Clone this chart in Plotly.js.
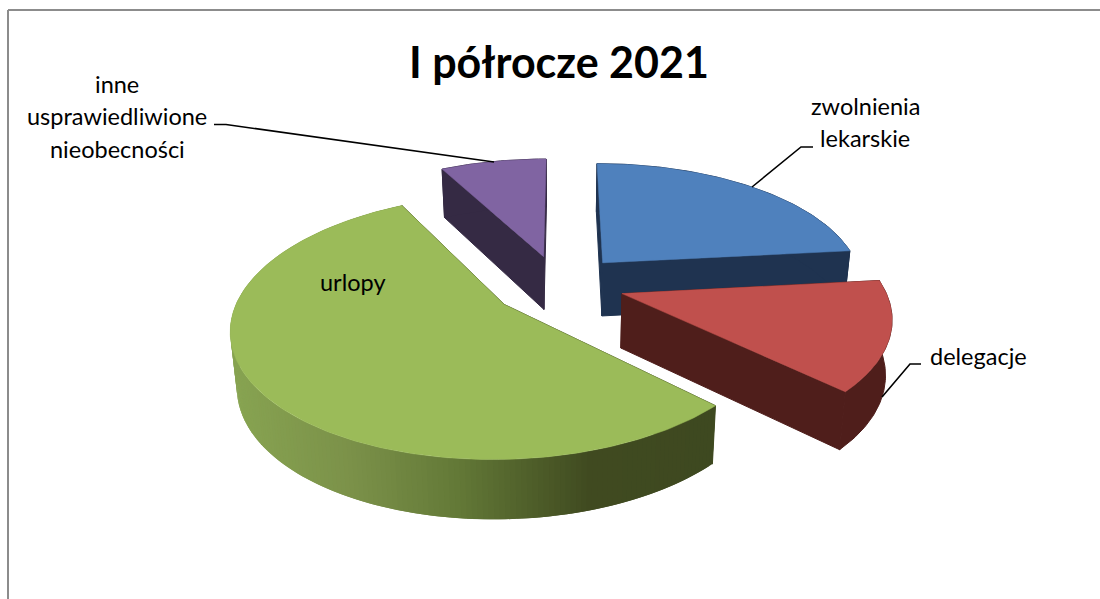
<!DOCTYPE html>
<html>
<head>
<meta charset="utf-8">
<script src="https://cdn.plot.ly/plotly-3.0.1.min.js"></script>
<style>html,body{margin:0;padding:0;background:#fff}#c{width:1100px;height:599px}</style>
</head>
<body>
<div id="c"></div>
<script>
// chart data
const chartTitle = 'I półrocze 2021';
const categories = ['zwolnienia lekarskie', 'delegacje', 'urlopy', 'inne usprawiedliwione nieobecności'];
const shares = [23.3, 13.9, 55.0, 7.8];
const topColors = ['#4f81bd', '#c0504d', '#9bbb59', '#8064a2'];
const wallColors = ['#1f3350', '#4f1e1b', '#3f4a20', '#352a44'];

// view of the 3D pie
const view = {cx: 562, cy: 284, R: 261, Ry: 122, k: 0.165, h0: 54, h1: 5, zs: 0.98};
const explode = [0.24, 0.24, 0.27, 0.24];
const skewX = [0, 0, 0, -0.015];

function project(X, Y, z) {
  const w = 1 - view.k * Y, s = z ? view.zs : 1;
  return [view.cx + view.R * X / w * s, view.cy + view.Ry * Y / w + z * (view.h0 + view.h1 * Y)];
}
const traces = [];
function poly(pts, color, lw) {
  traces.push({type: 'scatter', mode: 'lines', x: pts.map(p => p[0]), y: pts.map(p => p[1]),
    fill: 'toself', fillcolor: color, line: {color: color, width: lw === undefined ? 1 : lw}, hoverinfo: 'skip', showlegend: false});
}
function mix(a, b, t) {
  const pa = [1,3,5].map(i => parseInt(a.substr(i,2),16)), pb = [1,3,5].map(i => parseInt(b.substr(i,2),16));
  return 'rgb(' + pa.map((v,i) => Math.round(v + (pb[i]-v)*t)).join(',') + ')';
}
const greenStops = [[235,'#87a351'],[350,'#7b9149'],[453,'#647a38'],[530,'#4f5f2a'],[590,'#404a20'],[720,'#3e4920']];
function greenAt(x) {
  for (let i = 1; i < greenStops.length; i++) {
    if (x <= greenStops[i][0]) {
      const a = greenStops[i-1], b = greenStops[i];
      return mix(a[1], b[1], Math.max(0, (x-a[0])/(b[0]-a[0])));
    }
  }
  return greenStops[greenStops.length-1][1];
}
const total = shares.reduce((a,b) => a+b, 0);
const slices = [];
let acc = 0;
shares.forEach((v, i) => {
  const a0 = acc / total * 2 * Math.PI; acc += v;
  slices.push({i, a0, a1: acc / total * 2 * Math.PI});
});
// painter's order: back to front
[3, 0, 2, 1].forEach(i => {
  const {a0, a1} = slices[i], mid = (a0 + a1) / 2, e = explode[i];
  const ax = e * Math.sin(mid) + skewX[i], ay = -e * Math.cos(mid);
  const pt = (a, z) => project(ax + Math.sin(a), ay - Math.cos(a), z);
  const apex = z => project(ax, ay, z);
  poly([apex(0), pt(a0,0), pt(a0,1), apex(1), apex(0)], wallColors[i]);
  poly([apex(0), pt(a1,0), pt(a1,1), apex(1), apex(0)], wallColors[i]);
  const steps = Math.round((a1 - a0) / (2 * Math.PI) * 360);
  const ang = n => a0 + (a1 - a0) * Math.min(n, steps) / steps;
  if (i === 2) {
    for (let n = 0; n < steps; n++) {
      const p = pt(ang(n), 0), q = pt(ang(n+2), 0);
      poly([p, q, pt(ang(n+2),1), pt(ang(n),1), p], greenAt((p[0]+pt(ang(n+1),0)[0])/2), 0);
    }
  } else {
    const up = [], dn = [];
    for (let n = 0; n <= steps; n++) { up.push(pt(ang(n),0)); dn.unshift(pt(ang(n),1)); }
    poly(up.concat(dn, [up[0]]), wallColors[i]);
  }
  const top = [apex(0)];
  for (let n = 0; n <= steps; n++) top.push(pt(ang(n),0));
  top.push(apex(0));
  poly(top, topColors[i], 0.5);
});
// leader lines
const leaders = [
  {x:[214,226,494], y:[124.5,124.5,162]},
  {x:[752,801,813], y:[187,147,147]},
  {x:[882,910,921], y:[397,364,364]}
];
leaders.forEach(l => traces.push({type:'scatter', mode:'lines', x:l.x, y:l.y, line:{color:'#000',width:1.6}, hoverinfo:'skip', showlegend:false}));

const labelFont = {family:'Lato, sans-serif', size:23.5, color:'#000'};
const note = (x, y, text, font) => ({xref:'x', yref:'y', x, y, text, showarrow:false, xanchor:'center', yanchor:'middle', font: font || labelFont});
const layout = {
  width:1100, height:599, margin:{l:0,r:0,t:0,b:0}, paper_bgcolor:'#fff', plot_bgcolor:'#fff', showlegend:false,
  xaxis:{range:[0,1100], visible:false, fixedrange:true},
  yaxis:{range:[599,0], visible:false, fixedrange:true},
  shapes:[{type:'line', xref:'x', yref:'y', x0:8, y0:10, x1:1100, y1:10, line:{color:'#8c8c8c',width:2}},
          {type:'line', xref:'x', yref:'y', x0:8, y0:10, x1:8, y1:599, line:{color:'#8c8c8c',width:2}}],
  annotations:[
    note(559, 61, chartTitle, {family:'Lato, sans-serif', size:43, color:'#000', weight:700}),
    note(117, 84, 'inne'),
    note(117, 116, 'usprawiedliwione'),
    note(117, 149, 'nieobecności'),
    note(865, 106, 'zwolnienia'),
    note(865, 138, 'lekarskie'),
    note(978, 356, 'delegacje'),
    note(353, 282, 'urlopy')
  ]
};
Plotly.newPlot('c', traces, layout, {displayModeBar:false, staticPlot:true});
</script>
</body>
</html>
